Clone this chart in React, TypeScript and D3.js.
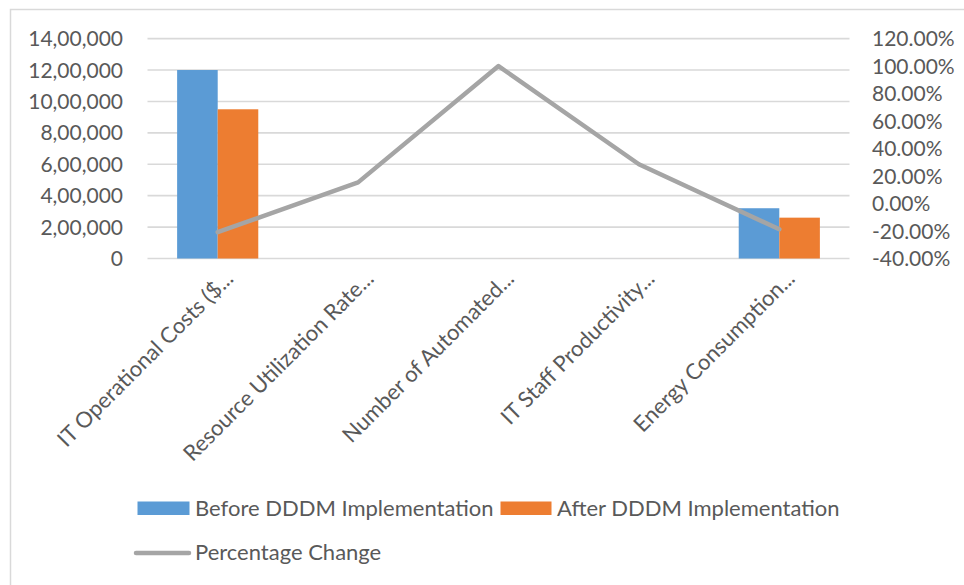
import React from "react";
import * as d3 from "d3";

const categories = [
  "IT Operational Costs ($...",
  "Resource Utilization Rate...",
  "Number of Automated...",
  "IT Staff Productivity...",
  "Energy Consumption...",
];
const beforeValues = [1200000, 65, 50, 70, 320000];
const afterValues = [950000, 75, 100, 90, 260000];
const pctChange = [-20.83, 15.38, 100, 28.57, -18.75];
const leftTicks = [0, 200000, 400000, 600000, 800000, 1000000, 1200000, 1400000];
const rightTicks = [-40, -20, 0, 20, 40, 60, 80, 100, 120];
const seriesNames = ["Before DDDM Implementation", "After DDDM Implementation", "Percentage Change"];

const W = 964;
const H = 585;
const FONT = "Lato, 'Noto Sans', sans-serif";
const TEXT = "#595959";
const BLUE = "#5B9BD5";
const ORANGE = "#ED7D31";
const GRAY = "#A5A5A5";
const GRID = "#D9D9D9";

function formatIndian(n: number): string {
  const s = Math.round(n).toString();
  if (s.length <= 3) return s;
  const last3 = s.slice(-3);
  let rest = s.slice(0, -3);
  const parts: string[] = [];
  while (rest.length > 2) {
    parts.unshift(rest.slice(-2));
    rest = rest.slice(0, -2);
  }
  if (rest.length) parts.unshift(rest);
  return parts.join(",") + "," + last3;
}

export default function App() {
  const plotLeft = 147.5;
  const plotRight = 849.5;
  const plotTop = 38.6;
  const plotBottom = 258.5;

  const x = d3.scaleBand<string>().domain(categories).range([plotLeft, plotRight]).padding(0);
  const bw = x.bandwidth();
  const barW = bw * 0.289;
  const yL = d3.scaleLinear().domain([0, 1400000]).range([plotBottom, plotTop]);
  const yR = d3.scaleLinear().domain([-40, 120]).range([plotBottom, plotTop]);

  const cx = (c: string) => (x(c) as number) + bw / 2;

  const line = d3
    .line<number>()
    .x((_, i) => cx(categories[i]))
    .y((d) => yR(d));

  return (
    <svg
      width={W}
      height={H}
      style={{ position: "absolute", left: 0, top: 0, display: "block", background: "#fff" }}
      fontFamily={FONT}
    >
      <rect x={0} y={0} width={W} height={H} fill="#fff" />
      <rect x={10.5} y={9.5} width={W + 10} height={H + 10} fill="none" stroke={GRID} strokeWidth={1.5} />

      {leftTicks.map((t) => (
        <line key={"g" + t} x1={plotLeft} x2={plotRight} y1={yL(t)} y2={yL(t)} stroke={GRID} strokeWidth={1.6} />
      ))}

      {leftTicks.map((t) => (
        <text key={"l" + t} x={123} y={yL(t)} dy="0.36em" textAnchor="end" fontSize={21} fill={TEXT}>
          {formatIndian(t)}
        </text>
      ))}
      {rightTicks.map((t) => (
        <text key={"r" + t} x={872} y={yR(t)} dy="0.36em" textAnchor="start" fontSize={21} fill={TEXT}>
          {t.toFixed(2) + "%"}
        </text>
      ))}

      {categories.map((c, i) => (
        <g key={"b" + c}>
          <rect
            x={cx(c) - barW}
            y={yL(beforeValues[i])}
            width={barW}
            height={plotBottom - yL(beforeValues[i])}
            fill={BLUE}
          />
          <rect
            x={cx(c)}
            y={yL(afterValues[i])}
            width={barW}
            height={plotBottom - yL(afterValues[i])}
            fill={ORANGE}
          />
        </g>
      ))}

      <path
        d={line(pctChange) || ""}
        fill="none"
        stroke={GRAY}
        strokeWidth={4.5}
        strokeLinejoin="round"
        strokeLinecap="round"
      />

      {categories.map((c) => (
        <text
          key={"c" + c}
          transform={`translate(${cx(c) + 17},${280}) rotate(-45)`}
          textAnchor="end"
          fontSize={22}
          fill={TEXT}
        >
          {c}
        </text>
      ))}

      {/* Legend */}
      <rect x={137.5} y={501.5} width={52} height={13.5} fill={BLUE} />
      <text x={195} y={508} dy="0.36em" fontSize={22} fill={TEXT}>
        {seriesNames[0]}
      </text>
      <rect x={500.5} y={501.5} width={51} height={13.5} fill={ORANGE} />
      <text x={557} y={508} dy="0.36em" fontSize={22} fill={TEXT}>
        {seriesNames[1]}
      </text>
      <line x1={136} x2={189} y1={553} y2={553} stroke={GRAY} strokeWidth={4.5} strokeLinecap="round" />
      <text x={195} y={552} dy="0.36em" fontSize={22} fill={TEXT}>
        {seriesNames[2]}
      </text>
    </svg>
  );
}
